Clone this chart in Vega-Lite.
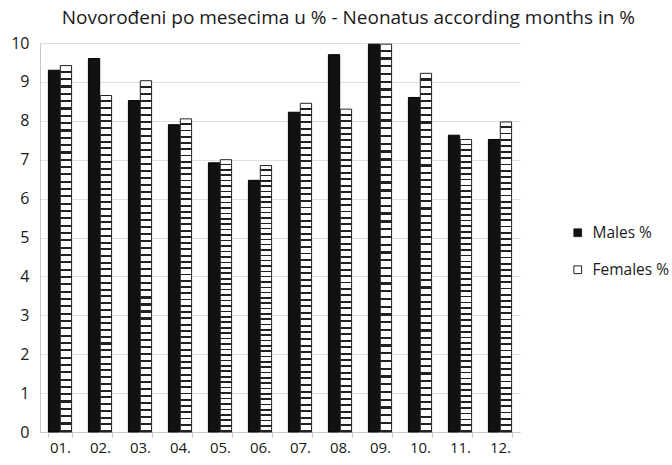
{
  "$schema": "https://vega.github.io/schema/vega-lite/v6.json",
  "width": 480,
  "height": 389,
  "padding": {"left": 10, "top": 9, "right": 0, "bottom": 0},
  "background": "white",
  "title": {"text": "Novorođeni po mesecima u % - Neonatus according months in %", "fontSize": 19, "font": "Open Sans", "fontWeight": "normal", "color": "#1a1a1a", "anchor": "middle", "frame": "bounds", "offset": 7, "dx": 8},
  "config": {"view": {"stroke": null}, "font": "Open Sans"},
  "data": {"values": [
    {"month": "01.", "sex": "Males %", "value": 9.3},
    {"month": "01.", "sex": "Females %", "value": 9.42},
    {"month": "02.", "sex": "Males %", "value": 9.6},
    {"month": "02.", "sex": "Females %", "value": 8.65},
    {"month": "03.", "sex": "Males %", "value": 8.52},
    {"month": "03.", "sex": "Females %", "value": 9.03},
    {"month": "04.", "sex": "Males %", "value": 7.9},
    {"month": "04.", "sex": "Females %", "value": 8.05},
    {"month": "05.", "sex": "Males %", "value": 6.92},
    {"month": "05.", "sex": "Females %", "value": 7.0},
    {"month": "06.", "sex": "Males %", "value": 6.47},
    {"month": "06.", "sex": "Females %", "value": 6.85},
    {"month": "07.", "sex": "Males %", "value": 8.22},
    {"month": "07.", "sex": "Females %", "value": 8.45},
    {"month": "08.", "sex": "Males %", "value": 9.7},
    {"month": "08.", "sex": "Females %", "value": 8.3},
    {"month": "09.", "sex": "Males %", "value": 9.97},
    {"month": "09.", "sex": "Females %", "value": 9.97},
    {"month": "10.", "sex": "Males %", "value": 8.6},
    {"month": "10.", "sex": "Females %", "value": 9.22},
    {"month": "11.", "sex": "Males %", "value": 7.63},
    {"month": "11.", "sex": "Females %", "value": 7.52},
    {"month": "12.", "sex": "Males %", "value": 7.52},
    {"month": "12.", "sex": "Females %", "value": 7.97}
  ]},
  "encoding": {
    "x": {"field": "month", "type": "nominal", "sort": null,
      "scale": {"paddingInner": 0.42, "paddingOuter": 0.21},
      "axis": {"title": null, "labelAngle": 0, "labelFontSize": 15, "labelColor": "#1a1a1a", "domainColor": "#c8c8c8", "tickColor": "#c8c8c8", "tickSize": 5, "tickBand": "extent", "labelPadding": 3}},
    "xOffset": {"field": "sex", "type": "nominal", "scale": {"domain": ["Males %", "Females %"], "paddingInner": 0.05}},
    "y": {"field": "value", "type": "quantitative",
      "scale": {"domain": [0, 10], "nice": false},
      "axis": {"title": null, "values": [0,1,2,3,4,5,6,7,8,9,10], "labelFontSize": 16, "labelColor": "#1a1a1a", "ticks": false, "labelPadding": 11, "domainColor": "#c8c8c8", "gridColor": "#e0e0e0"}}
  },
  "layer": [
    {
      "transform": [{"filter": "datum.sex === 'Males %'"}],
      "mark": {"type": "bar", "stroke": "#000", "strokeWidth": 1},
      "encoding": {
        "color": {"field": "sex", "type": "nominal",
          "scale": {"domain": ["Males %", "Females %"], "range": ["#111111", "#ffffff"]},
          "legend": {"title": null, "orient": "none", "legendX": 530, "legendY": 182, "labelFontSize": 15.5, "labelColor": "#1a1a1a", "symbolType": "square", "symbolSize": 60, "symbolStrokeColor": "#222", "symbolStrokeWidth": 1, "rowPadding": 20, "labelOffset": 7}}
      }
    },
    {
      "transform": [{"filter": "datum.sex === 'Females %'"}],
      "mark": {"type": "bar", "stroke": "#222", "strokeWidth": 1,
        "fill": {"gradient": "linear", "x1": 0, "y1": 0, "x2": 0, "y2": 1, "stops": [
          {"offset": 0, "color": "#fff"}, {"offset": 0.014, "color": "#fff"}, {"offset": 0.014, "color": "#222"}, {"offset": 0.02, "color": "#222"},
          {"offset": 0.02, "color": "#fff"}, {"offset": 0.034, "color": "#fff"}, {"offset": 0.034, "color": "#222"}, {"offset": 0.04, "color": "#222"},
          {"offset": 0.04, "color": "#fff"}, {"offset": 0.054, "color": "#fff"}, {"offset": 0.054, "color": "#222"}, {"offset": 0.06, "color": "#222"},
          {"offset": 0.06, "color": "#fff"}, {"offset": 0.074, "color": "#fff"}, {"offset": 0.074, "color": "#222"}, {"offset": 0.08, "color": "#222"},
          {"offset": 0.08, "color": "#fff"}, {"offset": 0.094, "color": "#fff"}, {"offset": 0.094, "color": "#222"}, {"offset": 0.1, "color": "#222"},
          {"offset": 0.1, "color": "#fff"}, {"offset": 0.114, "color": "#fff"}, {"offset": 0.114, "color": "#222"}, {"offset": 0.12, "color": "#222"},
          {"offset": 0.12, "color": "#fff"}, {"offset": 0.134, "color": "#fff"}, {"offset": 0.134, "color": "#222"}, {"offset": 0.14, "color": "#222"},
          {"offset": 0.14, "color": "#fff"}, {"offset": 0.154, "color": "#fff"}, {"offset": 0.154, "color": "#222"}, {"offset": 0.16, "color": "#222"},
          {"offset": 0.16, "color": "#fff"}, {"offset": 0.174, "color": "#fff"}, {"offset": 0.174, "color": "#222"}, {"offset": 0.18, "color": "#222"},
          {"offset": 0.18, "color": "#fff"}, {"offset": 0.194, "color": "#fff"}, {"offset": 0.194, "color": "#222"}, {"offset": 0.2, "color": "#222"},
          {"offset": 0.2, "color": "#fff"}, {"offset": 0.214, "color": "#fff"}, {"offset": 0.214, "color": "#222"}, {"offset": 0.22, "color": "#222"},
          {"offset": 0.22, "color": "#fff"}, {"offset": 0.234, "color": "#fff"}, {"offset": 0.234, "color": "#222"}, {"offset": 0.24, "color": "#222"},
          {"offset": 0.24, "color": "#fff"}, {"offset": 0.254, "color": "#fff"}, {"offset": 0.254, "color": "#222"}, {"offset": 0.26, "color": "#222"},
          {"offset": 0.26, "color": "#fff"}, {"offset": 0.274, "color": "#fff"}, {"offset": 0.274, "color": "#222"}, {"offset": 0.28, "color": "#222"},
          {"offset": 0.28, "color": "#fff"}, {"offset": 0.294, "color": "#fff"}, {"offset": 0.294, "color": "#222"}, {"offset": 0.3, "color": "#222"},
          {"offset": 0.3, "color": "#fff"}, {"offset": 0.314, "color": "#fff"}, {"offset": 0.314, "color": "#222"}, {"offset": 0.32, "color": "#222"},
          {"offset": 0.32, "color": "#fff"}, {"offset": 0.334, "color": "#fff"}, {"offset": 0.334, "color": "#222"}, {"offset": 0.34, "color": "#222"},
          {"offset": 0.34, "color": "#fff"}, {"offset": 0.354, "color": "#fff"}, {"offset": 0.354, "color": "#222"}, {"offset": 0.36, "color": "#222"},
          {"offset": 0.36, "color": "#fff"}, {"offset": 0.374, "color": "#fff"}, {"offset": 0.374, "color": "#222"}, {"offset": 0.38, "color": "#222"},
          {"offset": 0.38, "color": "#fff"}, {"offset": 0.394, "color": "#fff"}, {"offset": 0.394, "color": "#222"}, {"offset": 0.4, "color": "#222"},
          {"offset": 0.4, "color": "#fff"}, {"offset": 0.414, "color": "#fff"}, {"offset": 0.414, "color": "#222"}, {"offset": 0.42, "color": "#222"},
          {"offset": 0.42, "color": "#fff"}, {"offset": 0.434, "color": "#fff"}, {"offset": 0.434, "color": "#222"}, {"offset": 0.44, "color": "#222"},
          {"offset": 0.44, "color": "#fff"}, {"offset": 0.454, "color": "#fff"}, {"offset": 0.454, "color": "#222"}, {"offset": 0.46, "color": "#222"},
          {"offset": 0.46, "color": "#fff"}, {"offset": 0.474, "color": "#fff"}, {"offset": 0.474, "color": "#222"}, {"offset": 0.48, "color": "#222"},
          {"offset": 0.48, "color": "#fff"}, {"offset": 0.494, "color": "#fff"}, {"offset": 0.494, "color": "#222"}, {"offset": 0.5, "color": "#222"},
          {"offset": 0.5, "color": "#fff"}, {"offset": 0.514, "color": "#fff"}, {"offset": 0.514, "color": "#222"}, {"offset": 0.52, "color": "#222"},
          {"offset": 0.52, "color": "#fff"}, {"offset": 0.534, "color": "#fff"}, {"offset": 0.534, "color": "#222"}, {"offset": 0.54, "color": "#222"},
          {"offset": 0.54, "color": "#fff"}, {"offset": 0.554, "color": "#fff"}, {"offset": 0.554, "color": "#222"}, {"offset": 0.56, "color": "#222"},
          {"offset": 0.56, "color": "#fff"}, {"offset": 0.574, "color": "#fff"}, {"offset": 0.574, "color": "#222"}, {"offset": 0.58, "color": "#222"},
          {"offset": 0.58, "color": "#fff"}, {"offset": 0.594, "color": "#fff"}, {"offset": 0.594, "color": "#222"}, {"offset": 0.6, "color": "#222"},
          {"offset": 0.6, "color": "#fff"}, {"offset": 0.614, "color": "#fff"}, {"offset": 0.614, "color": "#222"}, {"offset": 0.62, "color": "#222"},
          {"offset": 0.62, "color": "#fff"}, {"offset": 0.634, "color": "#fff"}, {"offset": 0.634, "color": "#222"}, {"offset": 0.64, "color": "#222"},
          {"offset": 0.64, "color": "#fff"}, {"offset": 0.654, "color": "#fff"}, {"offset": 0.654, "color": "#222"}, {"offset": 0.66, "color": "#222"},
          {"offset": 0.66, "color": "#fff"}, {"offset": 0.674, "color": "#fff"}, {"offset": 0.674, "color": "#222"}, {"offset": 0.68, "color": "#222"},
          {"offset": 0.68, "color": "#fff"}, {"offset": 0.694, "color": "#fff"}, {"offset": 0.694, "color": "#222"}, {"offset": 0.7, "color": "#222"},
          {"offset": 0.7, "color": "#fff"}, {"offset": 0.714, "color": "#fff"}, {"offset": 0.714, "color": "#222"}, {"offset": 0.72, "color": "#222"},
          {"offset": 0.72, "color": "#fff"}, {"offset": 0.734, "color": "#fff"}, {"offset": 0.734, "color": "#222"}, {"offset": 0.74, "color": "#222"},
          {"offset": 0.74, "color": "#fff"}, {"offset": 0.754, "color": "#fff"}, {"offset": 0.754, "color": "#222"}, {"offset": 0.76, "color": "#222"},
          {"offset": 0.76, "color": "#fff"}, {"offset": 0.774, "color": "#fff"}, {"offset": 0.774, "color": "#222"}, {"offset": 0.78, "color": "#222"},
          {"offset": 0.78, "color": "#fff"}, {"offset": 0.794, "color": "#fff"}, {"offset": 0.794, "color": "#222"}, {"offset": 0.8, "color": "#222"},
          {"offset": 0.8, "color": "#fff"}, {"offset": 0.814, "color": "#fff"}, {"offset": 0.814, "color": "#222"}, {"offset": 0.82, "color": "#222"},
          {"offset": 0.82, "color": "#fff"}, {"offset": 0.834, "color": "#fff"}, {"offset": 0.834, "color": "#222"}, {"offset": 0.84, "color": "#222"},
          {"offset": 0.84, "color": "#fff"}, {"offset": 0.854, "color": "#fff"}, {"offset": 0.854, "color": "#222"}, {"offset": 0.86, "color": "#222"},
          {"offset": 0.86, "color": "#fff"}, {"offset": 0.874, "color": "#fff"}, {"offset": 0.874, "color": "#222"}, {"offset": 0.88, "color": "#222"},
          {"offset": 0.88, "color": "#fff"}, {"offset": 0.894, "color": "#fff"}, {"offset": 0.894, "color": "#222"}, {"offset": 0.9, "color": "#222"},
          {"offset": 0.9, "color": "#fff"}, {"offset": 0.914, "color": "#fff"}, {"offset": 0.914, "color": "#222"}, {"offset": 0.92, "color": "#222"},
          {"offset": 0.92, "color": "#fff"}, {"offset": 0.934, "color": "#fff"}, {"offset": 0.934, "color": "#222"}, {"offset": 0.94, "color": "#222"},
          {"offset": 0.94, "color": "#fff"}, {"offset": 0.954, "color": "#fff"}, {"offset": 0.954, "color": "#222"}, {"offset": 0.96, "color": "#222"},
          {"offset": 0.96, "color": "#fff"}, {"offset": 0.974, "color": "#fff"}, {"offset": 0.974, "color": "#222"}, {"offset": 0.98, "color": "#222"},
          {"offset": 0.98, "color": "#fff"}, {"offset": 0.994, "color": "#fff"}, {"offset": 0.994, "color": "#222"}, {"offset": 1, "color": "#222"}
        ]}}
    }
  ]
}
